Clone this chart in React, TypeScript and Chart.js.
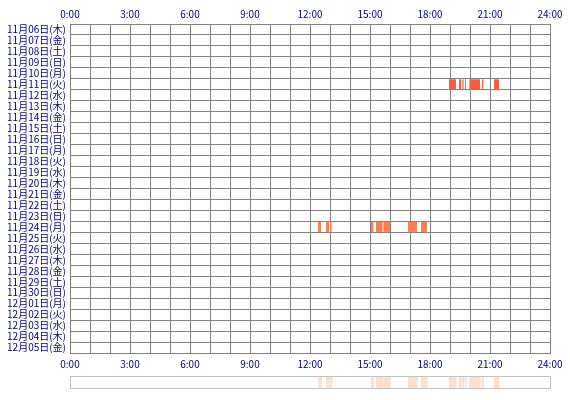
import React, { useEffect, useRef } from 'react';
import { Chart, registerables } from 'chart.js';

Chart.register(...registerables);

const dayLabels: string[] = [
  '11月06日(木)', '11月07日(金)', '11月08日(土)', '11月09日(日)', '11月10日(月)',
  '11月11日(火)', '11月12日(水)', '11月13日(木)', '11月14日(金)', '11月15日(土)',
  '11月16日(日)', '11月17日(月)', '11月18日(火)', '11月19日(水)', '11月20日(木)',
  '11月21日(金)', '11月22日(土)', '11月23日(日)', '11月24日(月)', '11月25日(火)',
  '11月26日(水)', '11月27日(木)', '11月28日(金)', '11月29日(土)', '11月30日(日)',
  '12月01日(月)', '12月02日(火)', '12月03日(水)', '12月04日(木)', '12月05日(金)',
];

const rowNov11 = '11月11日(火)';
const segmentsNov11: [number, number][] = [
  [18.95, 19.3], [19.45, 19.55], [19.62, 19.68], [19.75, 19.8],
  [19.97, 20.5], [20.6, 20.66], [21.2, 21.45],
];

const rowNov24 = '11月24日(月)';
const segmentsNov24: [number, number][] = [
  [12.4, 12.55], [12.8, 12.95], [13.0, 13.08],
  [15.05, 15.17], [15.3, 15.63], [15.67, 16.0],
  [16.9, 17.35], [17.55, 17.85],
];

const hourMin = 0;
const hourMax = 24;
const labelEvery = 3;

const colorNov11 = '#FF5A3C';
const colorNov24 = '#FF7F50';
const stripColor = '#FFDFCB';
const gridColor = '#808080';
const textColor = '#000080';
const font = { family: "'Noto Sans CJK JP', 'DejaVu Sans', sans-serif", size: 10 };

const hourLabel = (v: any) => (Number(v) % labelEvery === 0 ? `${v}:00` : '');

export default function App() {
  const mainRef = useRef<HTMLCanvasElement>(null);
  const stripRef = useRef<HTMLCanvasElement>(null);

  useEffect(() => {
    const main = new Chart(mainRef.current!, {
      type: 'bar',
      data: {
        labels: dayLabels,
        datasets: [
          {
            data: segmentsNov11.map((s) => ({ x: s, y: rowNov11 })) as any,
            backgroundColor: colorNov11,
            barPercentage: 0.92,
            categoryPercentage: 1,
            grouped: false,
          },
          {
            data: segmentsNov24.map((s) => ({ x: s, y: rowNov24 })) as any,
            backgroundColor: colorNov24,
            barPercentage: 0.92,
            categoryPercentage: 1,
            grouped: false,
          },
        ],
      },
      options: {
        indexAxis: 'y',
        animation: false,
        responsive: false,
        maintainAspectRatio: false,
        layout: { padding: { left: 0, right: 20, top: 0, bottom: 0 } },
        plugins: { legend: { display: false }, tooltip: { enabled: false } },
        scales: {
          x: {
            type: 'linear',
            position: 'bottom',
            min: hourMin,
            max: hourMax,
            ticks: {
              stepSize: 1,
              autoSkip: false,
              maxRotation: 0,
              padding: 5,
              color: textColor,
              font,
              callback: hourLabel,
            },
            grid: { color: gridColor, drawTicks: false },
            border: { color: gridColor },
            afterFit: (s: any) => {
              s.height = 17;
            },
          },
          x2: {
            type: 'linear',
            position: 'top',
            min: hourMin,
            max: hourMax,
            ticks: {
              stepSize: 1,
              autoSkip: false,
              maxRotation: 0,
              padding: 4,
              color: textColor,
              font,
              callback: hourLabel,
            },
            grid: { display: false, drawTicks: false },
            border: { display: false },
            afterFit: (s: any) => {
              s.height = 24;
            },
          },
          y: {
            type: 'category',
            offset: true,
            grid: { color: gridColor, drawTicks: false, offset: true },
            border: { color: gridColor },
            ticks: { padding: 4, color: textColor, font, autoSkip: false },
            afterFit: (s: any) => {
              s.width = 70;
            },
          },
        },
      } as any,
    });

    const strip = new Chart(stripRef.current!, {
      type: 'bar',
      data: {
        labels: ['all'],
        datasets: [
          {
            data: [...segmentsNov11, ...segmentsNov24].map((s) => ({ x: s, y: 'all' })) as any,
            backgroundColor: stripColor,
            barPercentage: 1,
            categoryPercentage: 1,
          },
        ],
      },
      options: {
        indexAxis: 'y',
        animation: false,
        responsive: false,
        maintainAspectRatio: false,
        layout: { padding: 0 },
        plugins: { legend: { display: false }, tooltip: { enabled: false } },
        scales: {
          x: { type: 'linear', display: false, min: hourMin, max: hourMax },
          y: { type: 'category', display: false },
        },
      } as any,
    });

    return () => {
      main.destroy();
      strip.destroy();
    };
  }, []);

  return (
    <div style={{ position: 'fixed', left: 0, top: 0, width: 570, height: 400, background: '#fff' }}>
      <canvas ref={mainRef} width={570} height={370} style={{ display: 'block', position: 'absolute', left: 0, top: 0 }} />
      <div
        style={{
          position: 'absolute',
          left: 70,
          top: 376,
          width: 479,
          height: 11,
          border: '1px solid #C0C0C0',
        }}
      >
        <canvas ref={stripRef} width={479} height={11} style={{ display: 'block' }} />
      </div>
    </div>
  );
}
